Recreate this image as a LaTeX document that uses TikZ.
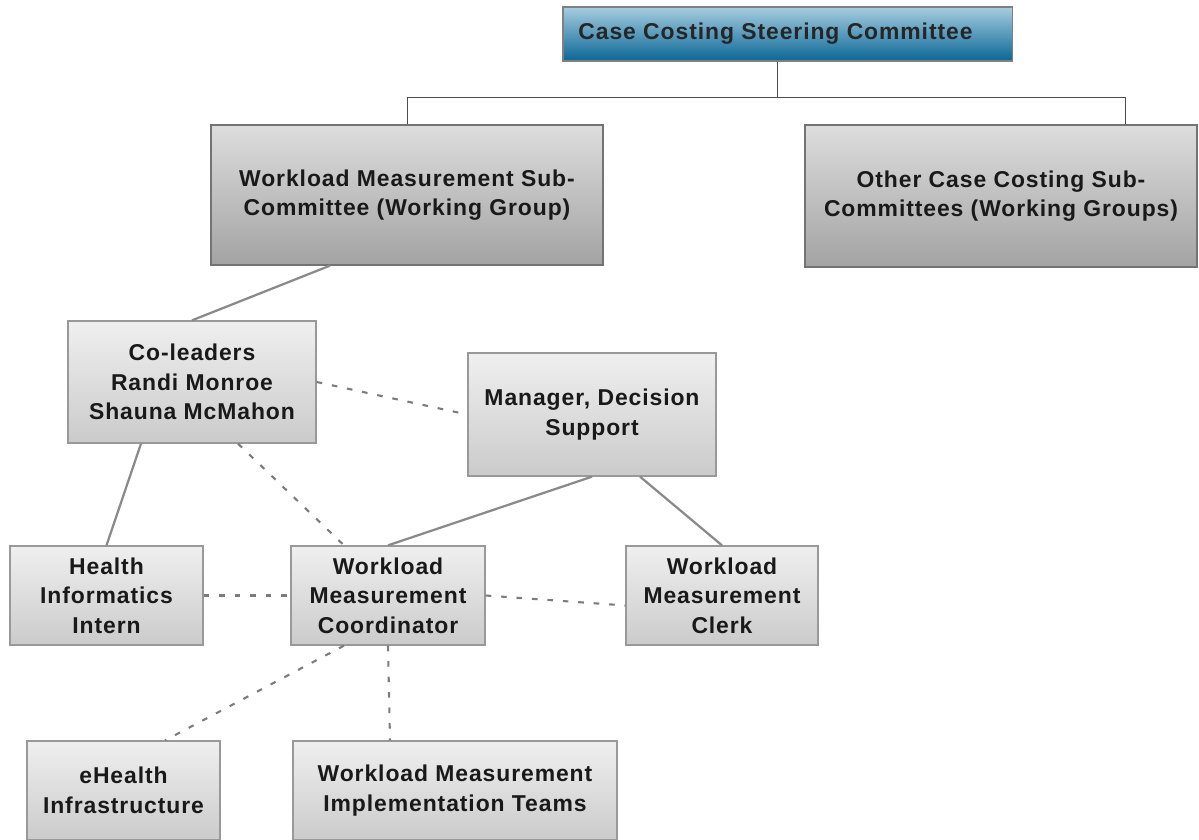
\documentclass[tikz,border=0pt]{standalone}
\usepackage{fontspec}
\setmainfont{Liberation Sans}
\usetikzlibrary{shapes}
\usetikzlibrary{arrows}

\definecolor{steertop}{HTML}{A6CDE0}
\definecolor{steerbot}{HTML}{0B6696}
\definecolor{subtop}{HTML}{DDDDDD}
\definecolor{subbot}{HTML}{A3A3A3}
\definecolor{roletop}{HTML}{EFEFEF}
\definecolor{rolebot}{HTML}{CBCBCB}
\definecolor{linkgray}{HTML}{8A8A8A}

\begin{document}
\begin{tikzpicture}[x=0.025cm,y=-0.025cm]
					\tikzstyle{every node}=[rectangle,align=center,inner sep=0pt,font=\bfseries\fontsize{16.3}{21}\selectfont\addfontfeature{LetterSpace=4}]
					\tikzstyle{steerbox}=[draw=gray,line width=0.8pt,top color=steertop,bottom color=steerbot,text=black!85]
					\tikzstyle{subbox}=[draw=black!55,line width=0.9pt,top color=subtop,bottom color=subbot,text=black!90]
					\tikzstyle{rolebox}=[draw=black!40,line width=0.9pt,top color=roletop,bottom color=rolebot,text=black!90]
					\tikzstyle{buslink}=[draw=black!70,line width=0.6pt]
					\tikzstyle{solidlink}=[draw=linkgray,line width=1.6pt]
					\tikzstyle{dashlink}=[draw=linkgray!90!black,line width=1.5pt,dash pattern=on 4pt off 7pt]
					
					\useasboundingbox (0,0) rectangle (1199,840);
					
					\node[steerbox,minimum width=11.225cm,minimum height=1.35cm] (steer) at (787.5,34) {Case Costing Steering Committee\hspace{0.6cm}};
					\node[subbox,minimum width=9.8cm,minimum height=3.5cm] (wms) at (407,195) {Workload Measurement Sub-\\Committee (Working Group)};
					\node[subbox,minimum width=9.8cm,minimum height=3.55cm] (other) at (1001,196) {Other Case Costing Sub-\\Committees (Working Groups)};
					\node[rolebox,minimum width=6.2cm,minimum height=3.05cm] (coleads) at (192,382) {Co-leaders\\Randi Monroe\\Shauna McMahon};
					\node[rolebox,minimum width=6.2cm,minimum height=3.075cm] (manager) at (592,414.5) {Manager, Decision\\Support};
					\node[rolebox,minimum width=4.825cm,minimum height=2.475cm] (intern) at (106.5,595.5) {Health\\Informatics\\Intern};
					\node[rolebox,minimum width=4.85cm,minimum height=2.475cm] (coord) at (388,595.5) {Workload\\Measurement\\Coordinator};
					\node[rolebox,minimum width=4.8cm,minimum height=2.475cm] (clerk) at (722,595.5) {Workload\\Measurement\\Clerk};
					\node[rolebox,minimum width=4.825cm,minimum height=2.475cm] (ehealth) at (123.5,790.5) {eHealth\\Infrastructure};
					\node[rolebox,minimum width=8.1cm,minimum height=2.475cm] (teams) at (455,790.5) {Workload Measurement\\Implementation Teams};
					
					% steering committee to its sub-committees
					\coordinate (busl) at (407,97);
					\coordinate (busr) at (1125,97);
					\draw[buslink] ([xshift=-0.26cm]steer.south) -- ([xshift=-0.26cm]steer.south |- busl);
					\draw[buslink] (wms.north) -- (busl) -- (busr) -- (busr |- other.north);
					
					% reporting lines
					\draw[solidlink] ([xshift=-1.925cm]wms.south) -- (coleads.north);
					\draw[solidlink] ([xshift=-1.275cm]coleads.south) -- (intern.north);
					\draw[solidlink] (manager.south) -- (coord.north);
					\draw[solidlink] ([xshift=1.2cm]manager.south) -- (clerk.north);
					
					% working relations
					\draw[dashlink] (coleads.east) -- (manager.west);
					\draw[dashlink] ([xshift=1.15cm]coleads.south) -- ([xshift=-1.1cm]coord.north);
					\draw[dashlink] (intern.east) -- (coord.west);
					\draw[dashlink] (coord.east) -- ([yshift=-0.25cm]clerk.west);
					\draw[dashlink] ([xshift=-1.1cm]coord.south) -- ([xshift=1.04cm]ehealth.north);
					\draw[dashlink] (coord.south) -- ([xshift=-1.625cm]teams.north);
					
\end{tikzpicture}
\end{document}
